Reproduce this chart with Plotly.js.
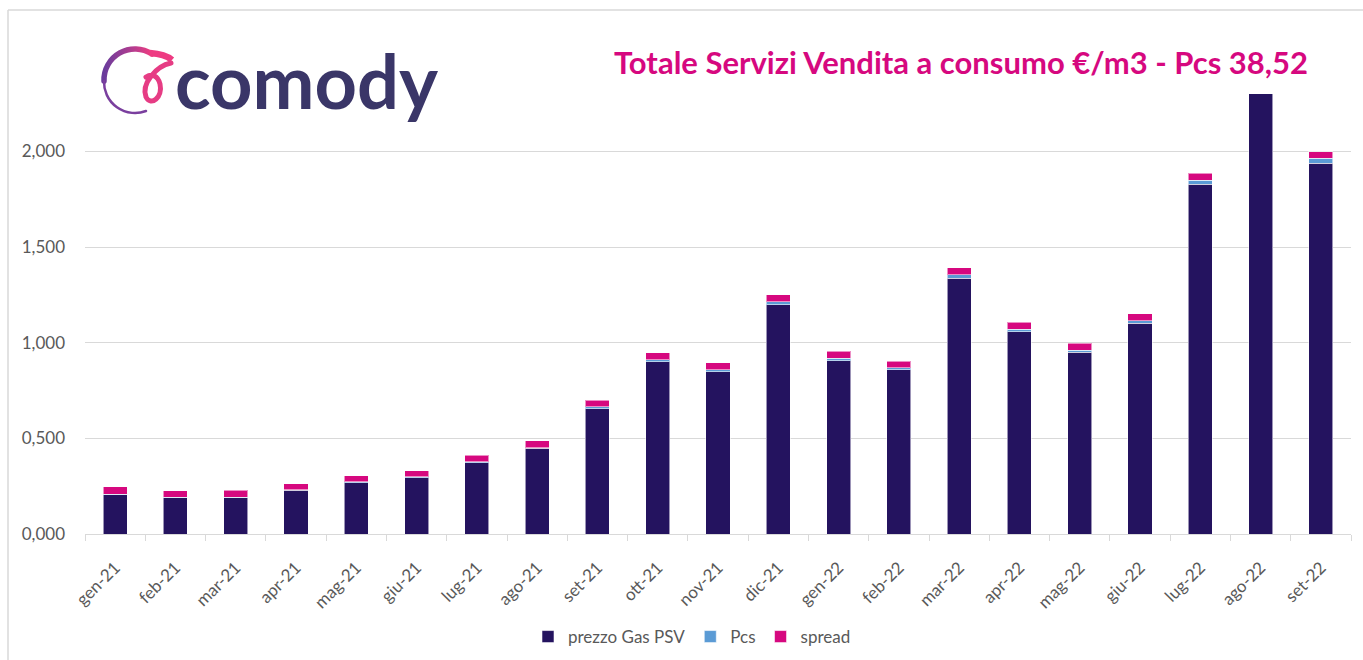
<!DOCTYPE html>
<html>
<head>
<meta charset="utf-8">
<script src="https://cdn.plot.ly/plotly-3.0.1.min.js"></script>
<style>html,body{margin:0;padding:0;background:#fff;}#chart{width:1363px;height:660px;}</style>
</head>
<body>
<div id="chart"></div>
<script>
// ---- data ----
const months = ["gen-21","feb-21","mar-21","apr-21","mag-21","giu-21","lug-21","ago-21","set-21","ott-21","nov-21","dic-21",
                "gen-22","feb-22","mar-22","apr-22","mag-22","giu-22","lug-22","ago-22","set-22"];
const prezzoGasPSV = [0.204,0.190,0.190,0.229,0.269,0.295,0.373,0.447,0.656,0.901,0.848,1.199,
                      0.906,0.859,1.337,1.056,0.949,1.101,1.827,2.450,1.939];
const pcs = [0.003,0.003,0.003,0.003,0.004,0.004,0.005,0.005,0.009,0.010,0.011,0.014,
             0.012,0.010,0.017,0.014,0.011,0.014,0.023,0.030,0.024];
const spread = [0.039,0.034,0.036,0.031,0.032,0.032,0.034,0.035,0.035,0.037,0.036,0.037,
                0.037,0.035,0.037,0.036,0.036,0.037,0.035,0.037,0.035];
const yTicks = [0, 0.5, 1, 1.5, 2];
const titleText = "Totale Servizi Vendita a consumo €/m3 - Pcs 38,52";
const logoText = "comody";

// ---- geometry helpers (pixel -> paper) ----
const W = 1363, H = 660;
const M = {l:85, r:12, t:94, b:126, autoexpand:false};
const pw = W - M.l - M.r, ph = H - M.t - M.b;
const px = x => (x - M.l) / pw;
const py = y => (H - M.b - y) / ph;

const grey = '#595959';
const font = 'Lato, "Open Sans", sans-serif';
const edge = {color:'rgba(255,255,255,0.55)', width:1};

const traces = [
  {type:'bar', name:'prezzo Gas PSV', x:months, y:prezzoGasPSV, marker:{color:'#24135F', line:edge}},
  {type:'bar', name:'Pcs', x:months, y:pcs, marker:{color:'#5B9BD5', line:edge}},
  {type:'bar', name:'spread', x:months, y:spread, marker:{color:'#D6087F', line:edge}}
];

const svg = `<svg xmlns="http://www.w3.org/2000/svg" viewBox="95 40 85 80" width="85" height="80">
<defs><linearGradient id="g" x1="0" y1="0" x2="1" y2="0">
<stop offset="0" stop-color="#6a3c9c"/><stop offset="0.6" stop-color="#b43d8f"/><stop offset="1" stop-color="#f03c80"/></linearGradient></defs>
<path d="M 152 54 A 31 31 0 0 0 104 81" fill="none" stroke="url(#g)" stroke-width="5.5" stroke-linecap="round"/>
<path d="M 104 81 A 31 31 0 0 0 146 111" fill="none" stroke="#7a3f9e" stroke-width="2.5" stroke-linecap="round"/>
<path d="M 150 53 Q 165 54 172 60" fill="none" stroke="#ee3b82" stroke-width="6.5"/>
<path d="M 171 63 C 156 66 141 84 146 97 C 151 107 163 97 160 84 C 158 76 152 73 146 77" fill="none" stroke="#e63c84" stroke-width="5" stroke-linecap="round"/>
</svg>`;

const layout = {
  width: W, height: H,
  margin: M,
  paper_bgcolor:'#fff', plot_bgcolor:'#fff',
  separators: ',.',
  barmode:'stack',
  bargap: 0.6,
  showlegend:true,
  legend:{orientation:'h', x:px(692), xanchor:'center', y:py(637), yanchor:'middle',
          font:{family:font, size:17, color:grey}, traceorder:'normal'},
  xaxis:{type:'category', tickangle:-45, tickfont:{family:font, size:17, color:grey}, automargin:false,
         showline:true, linecolor:'#d9d9d9', linewidth:1, ticks:'outside', tickson:'boundaries',
         ticklen:6, tickcolor:'#d9d9d9', showgrid:false, fixedrange:true, ticklabelstandoff:16},
  yaxis:{range:[0,2.3], tickvals:yTicks, tickformat:'.3f', tickfont:{family:font, size:17, color:grey}, automargin:false,
         showgrid:true, gridcolor:'#d9d9d9', gridwidth:1, zeroline:false, showline:false,
         ticks:'', ticklabelstandoff:19, fixedrange:true},
  annotations:[
    {xref:'paper', yref:'paper', x:px(1310), y:py(62), xanchor:'right', yanchor:'middle',
     text:'<b>'+titleText+'</b>', showarrow:false, font:{family:font, size:31, color:'#D6087F'}},
    {xref:'paper', yref:'paper', x:px(173), y:py(80), xanchor:'left', yanchor:'middle',
     text:'<b>'+logoText+'</b>', showarrow:false, font:{family:font, size:74, color:'#3A3668'}}
  ],
  images:[
    {source:'data:image/svg+xml;charset=utf-8,'+encodeURIComponent(svg), xref:'paper', yref:'paper',
     x:px(95), y:py(40), sizex:85/pw, sizey:80/ph, xanchor:'left', yanchor:'top', sizing:'stretch', layer:'above'}
  ],
  shapes:[
    {type:'line', xref:'paper', yref:'paper', x0:px(8), x1:px(1363), y0:py(10), y1:py(10), line:{color:'#d9d9d9', width:1.5}},
    {type:'line', xref:'paper', yref:'paper', x0:px(8), x1:px(8), y0:py(10), y1:py(660), line:{color:'#d9d9d9', width:1.5}}
  ]
};

Plotly.newPlot('chart', traces, layout, {displayModeBar:false, staticPlot:true});
</script>
</body>
</html>
